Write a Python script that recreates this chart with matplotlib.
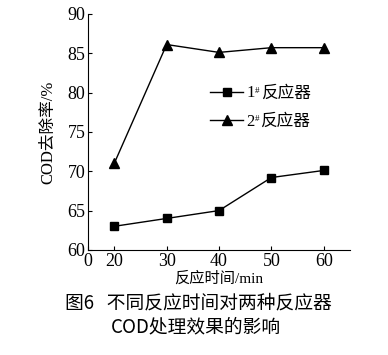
import numpy as np
import matplotlib
matplotlib.use("Agg")
import matplotlib.pyplot as plt

plt.rcParams['font.family'] = ['Liberation Serif', 'Noto Sans CJK SC']

# data
time_min = [20, 30, 40, 50, 60]
reactor1 = [63.0, 64.0, 65.0, 69.2, 70.1]
reactor2 = [71.0, 86.1, 85.1, 85.7, 85.7]
x_ticks = [15, 20, 30, 40, 50, 60]
x_ticklabels = ["0", "20", "30", "40", "50", "60"]
y_ticks = [60, 65, 70, 75, 80, 85, 90]
reactor_no = ["1", "2"]
reactor_word = "反应器"

fig = plt.figure(figsize=(3.88, 3.55), dpi=100)
ax = fig.add_axes([0.227, 0.296, 0.675, 0.665])

ax.plot(time_min, reactor1, color="black", lw=1.0, marker="s", ms=6,
        label=reactor_no[0])
ax.plot(time_min, reactor2, color="black", lw=1.0, marker="^", ms=6.5,
        label=reactor_no[1])

ax.set_xlim(15, 65)
ax.set_ylim(60, 90)
ax.set_xticks(x_ticks)
ax.set_xticklabels(x_ticklabels)
ax.set_yticks(y_ticks)
ax.tick_params(direction="in", length=3, width=0.8, labelsize=13, pad=2)
ax.spines["top"].set_visible(False)
ax.spines["right"].set_visible(False)

ax.set_ylabel("COD去除率/%", fontsize=12, labelpad=8)
ax.set_xlabel("反应时间/min", fontsize=11, labelpad=1)

leg = ax.legend(loc="upper left", bbox_to_anchor=(0.44, 0.725), frameon=False,
                fontsize=12, handlelength=2.0, handletextpad=0.2,
                labelspacing=0.75, borderaxespad=0)
# superscript "#" and the word after the reactor number, drawn after the legend
for t in leg.get_texts():
    ax.annotate("#", xy=(1, 1), xycoords=t, xytext=(0.2, -0.8),
                textcoords="offset points", fontsize=6.5, va="top",
                zorder=10)
    ax.annotate(reactor_word, xy=(1, 0.5), xycoords=t, xytext=(4.0, 0),
                textcoords="offset points", fontsize=12, va="center",
                zorder=10)

fig.text(0.51, 0.146, "图6   不同反应时间对两种反应器", ha="center", va="center",
         fontsize=13.5, family=["Noto Sans CJK SC"], weight="medium")
fig.text(0.505, 0.08, "COD处理效果的影响", ha="center", va="center",
         fontsize=13.5, family=["Noto Sans CJK SC"], weight="medium")

fig.savefig("out.png", dpi=100)
